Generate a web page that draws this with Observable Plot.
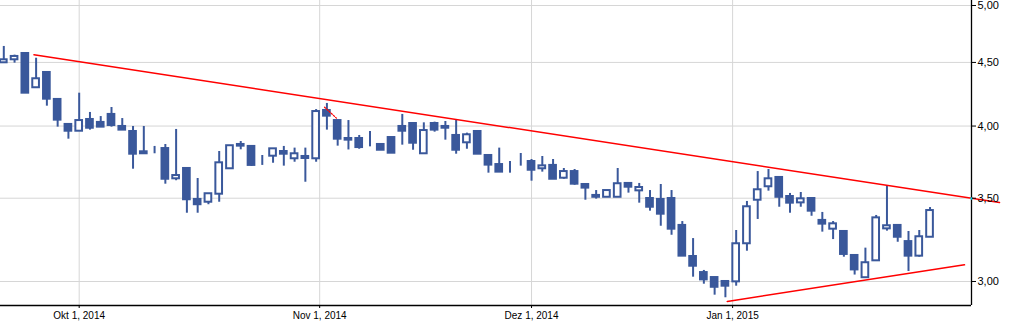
<!DOCTYPE html>
<html>
<head>
<meta charset="utf-8">
<script src="https://cdn.jsdelivr.net/npm/d3@7"></script>
<script src="https://cdn.jsdelivr.net/npm/@observablehq/plot@0.6"></script>
<style>
  html, body { margin: 0; padding: 0; background: #fff; overflow: hidden; }
  #chart svg { display: block; }
</style>
</head>
<body>
<div id="chart"></div>
<script>
// ---- Data (trading-day index 0..86, 22 Sep 2014 – 28 Jan 2015) ----
const opens  = [4.497,4.522,4.575,4.294,4.417,4.202,4.012,3.962,4.049,4.027,4.087,3.997,3.960,3.800,3.807,3.837,3.628,3.698,3.492,3.474,3.526,3.696,3.866,3.852,3.722,3.783,3.816,3.765,3.767,3.765,4.117,4.041,3.909,3.909,3.849,3.866,3.916,3.997,4.019,3.800,4.019,3.997,3.931,3.878,3.960,3.788,3.725,3.700,3.746,3.746,3.696,3.719,3.632,3.677,3.590,3.518,3.506,3.506,3.597,3.548,3.498,3.492,3.498,3.328,3.142,3.050,3.022,3.000,2.998,3.217,3.487,3.575,3.637,3.511,3.470,3.498,3.359,3.305,3.291,3.148,3.021,3.117,3.307,3.328,3.230,3.144,3.256];
const highs  = [4.635,4.561,4.575,4.535,4.425,4.202,4.012,4.251,4.102,4.071,4.140,4.056,3.997,3.997,3.852,3.866,3.975,3.698,3.630,3.529,3.816,3.857,3.887,3.852,3.788,3.835,3.852,3.840,3.840,4.124,4.171,4.041,4.041,3.931,3.960,3.866,3.916,4.087,4.019,4.024,4.029,4.034,4.049,3.948,3.960,3.788,3.840,3.746,3.802,3.760,3.781,3.760,3.698,3.691,3.590,3.550,3.550,3.698,3.597,3.597,3.550,3.590,3.550,3.352,3.248,3.062,3.022,3.000,3.297,3.479,3.677,3.691,3.637,3.531,3.537,3.498,3.409,3.352,3.291,3.148,3.191,3.390,3.583,3.328,3.291,3.297,3.440];
const lows   = [4.497,4.494,4.251,4.294,4.150,3.992,3.904,3.962,3.970,3.992,3.992,3.970,3.693,3.800,3.800,3.592,3.615,3.404,3.404,3.458,3.474,3.696,3.828,3.712,3.719,3.734,3.714,3.741,3.605,3.741,3.970,3.854,3.827,3.832,3.849,3.825,3.804,3.861,3.825,3.800,3.955,3.897,3.797,3.832,3.797,3.666,3.673,3.666,3.714,3.612,3.673,3.625,3.625,3.585,3.487,3.494,3.506,3.506,3.533,3.468,3.417,3.323,3.268,3.144,3.024,2.985,2.925,2.911,2.974,3.173,3.365,3.546,3.442,3.404,3.442,3.385,3.287,3.242,3.138,3.036,3.021,3.117,3.293,3.226,3.056,3.138,3.256];
const closes = [4.522,4.550,4.251,4.366,4.204,4.044,3.962,4.041,3.984,3.992,4.004,3.970,3.797,3.814,3.807,3.625,3.650,3.490,3.458,3.529,3.737,3.857,3.854,3.719,3.722,3.835,3.797,3.800,3.781,4.109,4.074,3.904,3.897,3.844,3.849,3.825,3.804,3.962,3.875,3.967,3.970,3.984,3.825,3.936,3.797,3.721,3.673,3.700,3.746,3.686,3.716,3.625,3.677,3.592,3.566,3.506,3.550,3.595,3.572,3.570,3.442,3.398,3.305,3.144,3.086,3.009,2.968,2.974,3.217,3.445,3.555,3.628,3.506,3.468,3.496,3.417,3.336,3.338,3.154,3.065,3.106,3.375,3.326,3.256,3.144,3.259,3.421];

// month ticks (fractional positions fall on non-trading days)
const monthTickIdx    = [7, 29.33, 49, 67.67];
const monthTickLabels = ["Okt 1, 2014", "Nov 1, 2014", "Dez 1, 2014", "Jan 1, 2015"];
const priceTicks      = [3.0, 3.5, 4.0, 4.5, 5.0];

// trend lines drawn on the chart
const upperTrendIdx = [2.80, 92.45];
const upperTrendVal = [4.564, 3.472];
const lowerTrendIdx = [67.17, 89.20];
const lowerTrendVal = [2.891, 3.094];
const markIdx       = [29.78, 30.89];
const markVal       = [4.142, 4.059];
const crossIdx      = [89.85];
const crossVal      = [3.498];

// scale domains
const xDomain = [-0.306, 89.85];
const yDomain = [2.8696, 5.0465];

// ---- Build ----
const blue = "#3a589b";
const candles = opens.map((o, i) => ({i, o, h: highs[i], l: lows[i], c: closes[i], up: closes[i] >= o}));
const upper = upperTrendIdx.map((x, k) => ({x, y: upperTrendVal[k]}));
const lower = lowerTrendIdx.map((x, k) => ({x, y: lowerTrendVal[k]}));
const mark  = markIdx.map((x, k) => ({x, y: markVal[k]}));
const cross = crossIdx.map((x, k) => ({x, y: crossVal[k]}));
const labelOf = new Map(monthTickIdx.map((d, k) => [d, monthTickLabels[k]]));

const chart = Plot.plot({
  width: 1021,
  height: 324,
  marginLeft: 0,
  marginRight: 50,
  marginTop: 0,
  marginBottom: 19,
  x: {type: "linear", domain: xDomain, axis: null},
  y: {type: "log", domain: yDomain, axis: null},
  style: {fontFamily: "'Liberation Sans', Arial, sans-serif", background: "#fff", overflow: "visible", color: "#000"},
  marks: [
    Plot.gridY(priceTicks, {stroke: "#d6d6d6", strokeOpacity: 1, strokeWidth: 1}),
    Plot.gridX(monthTickIdx, {stroke: "#d6d6d6", strokeOpacity: 1, strokeWidth: 1}),
    Plot.ruleX(candles, {x: "i", y1: "l", y2: "h", stroke: blue, strokeWidth: 2}),
    Plot.rect(candles, {
      x1: d => d.i - 0.31, x2: d => d.i + 0.31, y1: "o", y2: "c",
      fill: d => d.up ? "#fff" : blue, stroke: blue, strokeWidth: 2
    }),
    Plot.line(upper, {x: "x", y: "y", stroke: "#ff0000", strokeWidth: 1.5}),
    Plot.line(lower, {x: "x", y: "y", stroke: "#ff0000", strokeWidth: 1.5}),
    Plot.line(mark, {x: "x", y: "y", stroke: "#ff0000", strokeWidth: 1.2, strokeDasharray: "1.5,1.5"}),
    Plot.ruleY([yDomain[0]], {stroke: "#000", strokeWidth: 1.3}),
    Plot.ruleX([xDomain[1]], {stroke: "#000", strokeWidth: 1.3}),
    Plot.dot(cross, {x: "x", y: "y", r: 1.2, fill: "#00d8e8", stroke: null}),
    Plot.axisY(priceTicks, {
      anchor: "right", tickSize: 4, tickPadding: 2, fontSize: 11,
      tickFormat: d => d.toFixed(2).replace(".", ","), stroke: "#000", fill: "#000"
    }),
    Plot.axisX(monthTickIdx, {
      anchor: "bottom", tickSize: 3, tickPadding: 3, fontSize: 10,
      tickFormat: d => labelOf.get(d), stroke: "#000", fill: "#000"
    })
  ]
});
document.getElementById("chart").appendChild(chart);
</script>
</body>
</html>
